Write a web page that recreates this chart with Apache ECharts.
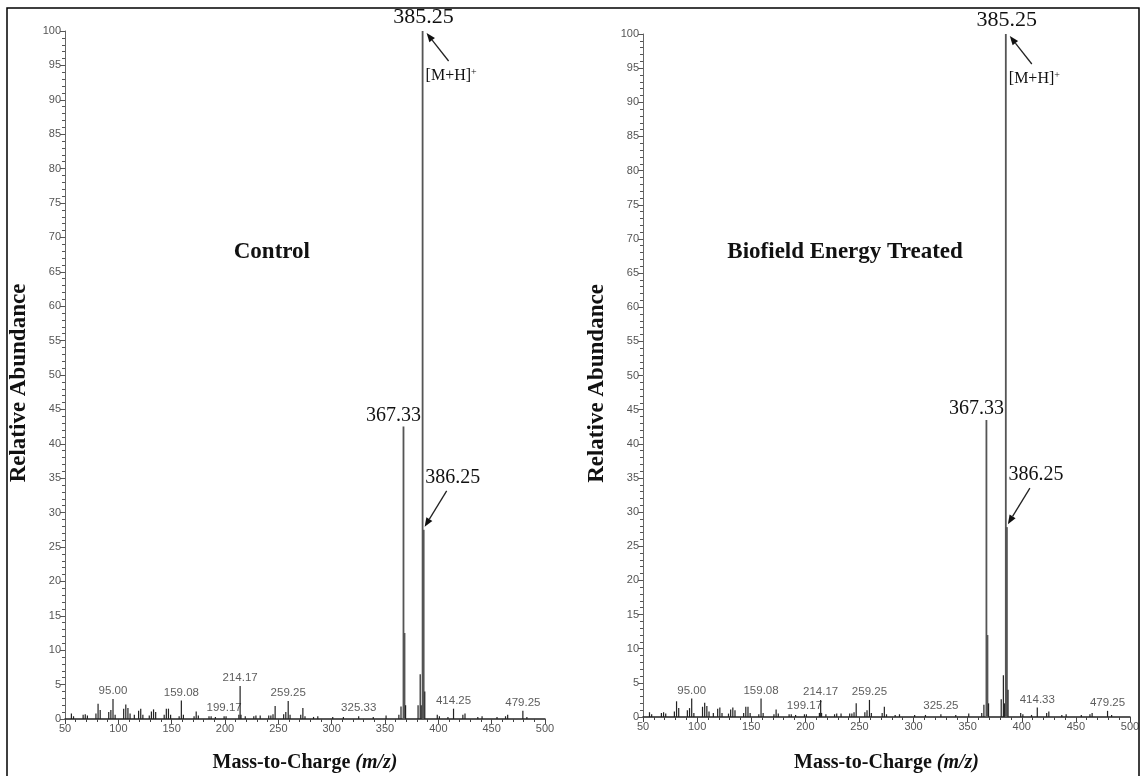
<!DOCTYPE html>
<html><head><meta charset="utf-8">
<script src="https://cdn.jsdelivr.net/npm/echarts@6/dist/echarts.min.js"></script>
<style>html,body{margin:0;padding:0;background:#fff}#c{width:1141px;height:776px}</style>
</head><body><div id="c"></div>
<script>
// ---------- DATA ----------
const panelTitles = ['Control', 'Biofield Energy Treated'];
const xTicks = [50, 100, 150, 200, 250, 300, 350, 400, 450, 500];
const yTicks = [0, 5, 10, 15, 20, 25, 30, 35, 40, 45, 50, 55, 60, 65, 70, 75, 80, 85, 90, 95, 100];

// Control spectrum: m/z and relative abundance
const controlMz = [56, 58, 67, 69, 71, 79, 81, 83, 91, 93, 95.00, 97, 105, 107, 109, 111, 115, 119, 121, 123, 129, 131, 133, 135, 143, 145, 147, 149, 157, 159.08, 161, 171, 173, 175, 185, 187, 191, 199.17, 201, 213, 214.17, 215, 219, 227, 229, 233, 241, 243, 245, 247, 255, 257, 259.25, 261, 271, 273, 275, 283, 287, 301, 311, 325.33, 339, 351, 363, 365, 367.33, 368.3, 369.3, 381, 383, 384, 385.25, 386.25, 387.3, 399, 401, 409, 414.25, 423, 425, 437, 441, 455, 463, 465, 479.25, 483];
const controlAb = [0.8, 0.4, 0.6, 0.7, 0.5, 0.8, 2.2, 1.3, 1.0, 1.3, 2.9, 0.6, 1.5, 2.1, 1.6, 0.8, 0.6, 1.2, 1.5, 0.6, 0.5, 1.1, 1.4, 1.0, 0.6, 1.5, 1.5, 0.6, 0.4, 2.7, 0.6, 0.4, 1.1, 0.5, 0.4, 0.4, 0.3, 0.4, 0.4, 0.6, 4.8, 0.6, 0.4, 0.4, 0.5, 0.5, 0.5, 0.5, 0.7, 1.9, 0.7, 1.0, 2.6, 0.6, 0.6, 1.6, 0.4, 0.3, 0.4, 0.3, 0.3, 0.4, 0.3, 0.5, 0.6, 1.8, 42.5, 12.5, 2.0, 2.0, 6.5, 2.0, 100, 27.5, 4.0, 0.6, 0.4, 0.3, 1.5, 0.6, 0.8, 0.3, 0.4, 0.3, 0.4, 0.6, 1.2, 0.3];

// Treated spectrum
const treatedMz = [56, 58, 67, 69, 71, 79, 81, 83, 91, 93, 95.00, 97, 105, 107, 109, 111, 115, 119, 121, 123, 129, 131, 133, 135, 143, 145, 147, 149, 157, 159.08, 161, 171, 173, 175, 185, 187, 191, 199.17, 201, 213, 214.17, 215, 219, 227, 229, 233, 241, 243, 245, 247, 255, 257, 259.25, 261, 271, 273, 275, 283, 287, 301, 311, 325.25, 339, 351, 363, 365, 367.33, 368.3, 369.3, 381, 383, 384, 385.25, 386.25, 387.3, 399, 401, 409, 414.33, 423, 425, 437, 441, 455, 463, 465, 479.25, 483];
const treatedAb = [0.7, 0.4, 0.6, 0.7, 0.5, 0.8, 2.3, 1.3, 1.0, 1.3, 2.7, 0.6, 1.5, 2.1, 1.6, 0.8, 0.6, 1.2, 1.4, 0.6, 0.5, 1.1, 1.4, 1.0, 0.6, 1.5, 1.5, 0.6, 0.4, 2.7, 0.6, 0.4, 1.1, 0.5, 0.4, 0.4, 0.3, 0.4, 0.4, 0.6, 2.5, 0.6, 0.4, 0.4, 0.5, 0.5, 0.5, 0.5, 0.7, 2.0, 0.7, 1.0, 2.5, 0.6, 0.6, 1.5, 0.4, 0.3, 0.4, 0.3, 0.3, 0.4, 0.3, 0.5, 0.6, 1.8, 43.5, 12.0, 2.0, 2.6, 6.1, 2.0, 100, 27.8, 4.0, 0.6, 0.4, 0.3, 1.4, 0.6, 0.8, 0.3, 0.4, 0.3, 0.4, 0.6, 0.9, 0.3];

// Small peak labels (m/z, label text)
const controlSmallLabels = ['95.00', '159.08', '199.17', '214.17', '259.25', '325.33', '414.25', '479.25'];
const treatedSmallLabels = ['95.00', '159.08', '199.17', '214.17', '259.25', '325.25', '414.33', '479.25'];
// Big annotated peaks
const bigLabels = ['385.25', '367.33', '386.25'];
const ionLabel = '[M+H]';

// ---------- BUILD ----------
const chart = echarts.init(document.getElementById('c'));
const serif = 'Liberation Serif, Times New Roman, serif';
const sans = 'Liberation Sans, Arial, sans-serif';

function pts(mz, ab) { return mz.map((m, i) => [m, ab[i]]); }
function labelPts(mz, ab, labels) {
  return labels.map(t => { const i = mz.indexOf(parseFloat(t)); return {value: [mz[i], ab[i]], name: t}; });
}

const grids = [
  {left: 65, top: 31, width: 480, height: 688, outerBoundsMode: 'none', containLabel: false},
  {left: 643, top: 34, width: 487, height: 683, outerBoundsMode: 'none', containLabel: false}
];

function xAx(i) {
  return {
    type: 'value', gridIndex: i, min: 50, max: 500, interval: 50,
    axisLine: {lineStyle: {color: '#222', width: 1.5}},
    axisTick: {show: true, inside: false, length: 5, lineStyle: {color: '#444'}},
    minorTick: {show: true, splitNumber: 5, length: 3, lineStyle: {color: '#444'}},
    splitLine: {show: false},
    axisLabel: {color: '#555', fontSize: 11, fontFamily: sans, margin: 4,
      formatter: v => xTicks.includes(v) ? String(v) : ''},
    name: '{b|Mass-to-Charge }{i|(m/z)}', nameLocation: 'middle', nameGap: i === 0 ? 34 : 36,
    nameTextStyle: {rich: {
      b: {fontFamily: serif, fontWeight: 'bold', fontSize: 20, color: '#111'},
      i: {fontFamily: serif, fontWeight: 'bold', fontStyle: 'italic', fontSize: 20, color: '#111'}
    }}
  };
}
function yAx(i) {
  return {
    type: 'value', gridIndex: i, min: 0, max: 100, interval: 5,
    axisLine: {show: true, lineStyle: {color: '#666', width: 1}},
    axisTick: {show: true, inside: false, length: 5, lineStyle: {color: '#555'}},
    minorTick: {show: true, splitNumber: 5, length: 3, lineStyle: {color: '#555'}},
    splitLine: {show: false},
    axisLabel: {color: '#555', fontSize: 11, fontFamily: sans, margin: 4,
      formatter: v => yTicks.includes(v) ? String(v) : ''},
    name: 'Relative Abundance', nameLocation: 'middle', nameGap: 34, nameRotate: 90,
    nameTextStyle: {fontFamily: serif, fontWeight: 'bold', fontSize: 23, color: '#111', padding: [0, 16, 0, 0]}
  };
}

function stickSeries(i, data) {
  return {
    type: 'custom', xAxisIndex: i, yAxisIndex: i, data: data, encode: {x: 0, y: 1},
    renderItem: function (params, api) {
      const x = api.value(0), h = api.value(1);
      const p0 = api.coord([x, 0]), p1 = api.coord([x, h]);
      return {type: 'line', shape: {x1: p0[0], y1: p0[1], x2: p1[0], y2: p1[1]},
        style: {stroke: h > 10 ? '#555' : '#222', lineWidth: h > 10 ? 1.8 : 1.2}};
    },
    silent: true, z: 3
  };
}
function labelSeries(i, data) {
  return {
    type: 'scatter', xAxisIndex: i, yAxisIndex: i, data: data, symbolSize: 0, silent: true,
    label: {show: true, position: 'top', distance: 2, formatter: p => p.name,
      fontFamily: sans, fontSize: 11.5, color: '#333'}
  };
}

chart.setOption({
  animation: false,
  grid: grids,
  xAxis: [xAx(0), xAx(1)],
  yAxis: [yAx(0), yAx(1)],
  series: [
    stickSeries(0, pts(controlMz, controlAb)),
    stickSeries(1, pts(treatedMz, treatedAb)),
    labelSeries(0, labelPts(controlMz, controlAb, controlSmallLabels)),
    labelSeries(1, labelPts(treatedMz, treatedAb, treatedSmallLabels))
  ]
});

// ---------- ANNOTATIONS (positioned from the axes) ----------
const graphics = [];
graphics.push({type: 'rect', shape: {x: 7, y: 8, width: 1132, height: 800},
  style: {fill: 'none', stroke: '#000', lineWidth: 1.5}, z: 10});

function arrow(x1, y1, x2, y2) {
  const a = Math.atan2(y2 - y1, x2 - x1), L = 9, W = 3.5;
  const bx = x2 - L * Math.cos(a), by = y2 - L * Math.sin(a);
  graphics.push({type: 'line', shape: {x1: x1, y1: y1, x2: bx, y2: by}, style: {stroke: '#222', lineWidth: 1.3}, z: 20});
  graphics.push({type: 'polygon', shape: {points: [[x2, y2],
    [bx + W * Math.sin(a), by - W * Math.cos(a)], [bx - W * Math.sin(a), by + W * Math.cos(a)]]},
    style: {fill: '#111'}, z: 20});
}
function txt(x, y, text, size, align) {
  graphics.push({type: 'text', x: x, y: y, z: 20,
    style: {text: text, font: size + 'px ' + serif, fill: '#111', textAlign: align || 'center', textVerticalAlign: 'middle'}});
}

const panels = [[controlMz, controlAb], [treatedMz, treatedAb]];
panels.forEach((pd, gi) => {
  const get = (lbl) => { const i = pd[0].indexOf(parseFloat(lbl)); return chart.convertToPixel({gridIndex: gi}, [pd[0][i], pd[1][i]]); };
  const g = grids[gi];
  // panel title
  graphics.push({type: 'text', x: g.left + g.width * (gi === 0 ? 0.431 : 0.415), y: 252, z: 20,
    style: {text: panelTitles[gi], font: 'bold 23px ' + serif, fill: '#111', textAlign: 'center', textVerticalAlign: 'middle'}});
  // 385.25 base peak
  const p = get(bigLabels[0]);
  txt(p[0] + 1, p[1] - 14, bigLabels[0], 22);
  graphics.push({type: 'text', x: p[0] + 3, y: p[1] + 45, z: 20,
    style: {text: '{a|' + ionLabel + '}{s|+}', textVerticalAlign: 'middle', textAlign: 'left',
      rich: {a: {font: '16px ' + serif, fill: '#111'}, s: {font: '10px ' + serif, fill: '#111', verticalAlign: 'top', padding: [0, 0, 8, 0]}}}});
  arrow(p[0] + 26, p[1] + 30, p[0] + 4, p[1] + 2);
  // 367.33
  const q = get(bigLabels[1]);
  txt(q[0] - 10, q[1] - 11, bigLabels[1], 20);
  // 386.25
  const r = get(bigLabels[2]);
  txt(r[0] + 29, r[1] - 52, bigLabels[2], 20);
  arrow(r[0] + 23, r[1] - 39, r[0] + 1, r[1] - 3);
});
chart.setOption({graphic: graphics});
</script></body></html>
